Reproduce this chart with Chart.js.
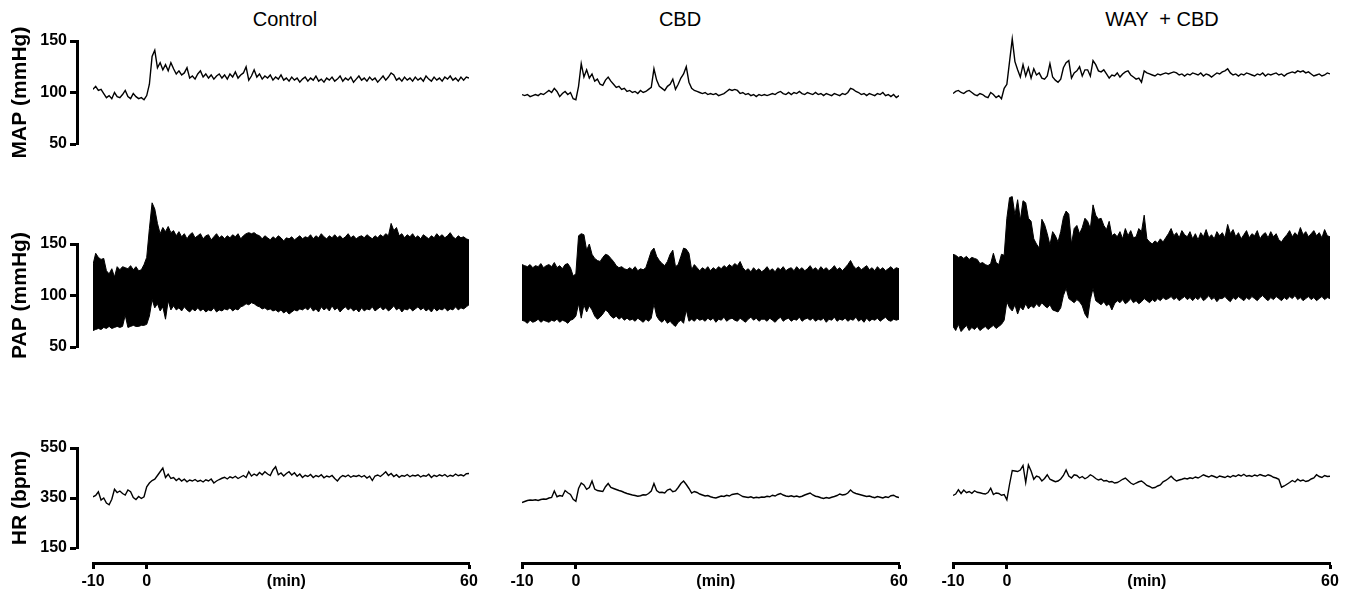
<!DOCTYPE html>
<html>
<head>
<meta charset="utf-8">
<script src="https://cdn.jsdelivr.net/npm/chart.js@4.4.1/dist/chart.umd.min.js"></script>
<style>
  body { margin: 0; background: #fff; }
  #fig { position: relative; width: 1349px; height: 593px; overflow: hidden;
         font-family: Arial, "Liberation Sans", sans-serif; }
  #fig canvas { position: absolute; }
  .group-title { position: absolute; top: 9px; font-size: 20px; line-height: 20px;
                 white-space: pre; transform: translateX(-50%); color: #000; }
</style>
</head>
<body>
<div id="fig"></div>
<script>
// ---------- Data (one sample every 0.5 min from -10 to 60) ----------
const groupTitles = ['Control', 'CBD', 'WAY  + CBD'];
const sampleStep = 0.5;
const minutes = Array.from({ length: 141 }, (_, i) => -10 + i * sampleStep);

const xTicks = [-10, 0, 60];
const xUnitLabel = '(min)';
const mapTicks = [50, 100, 150];
const papTicks = [50, 100, 150];
const hrTicks = [150, 350, 550];

// MAP (mmHg)
const mapControl = [
  103, 106, 102, 103, 99, 95, 97, 94, 100, 96,
  95, 98, 102, 96, 94, 99, 96, 94, 95, 93,
  97, 108, 135, 141, 124, 129, 122, 127, 121, 129,
  123, 118, 121, 117, 119, 124, 114, 116, 113, 118,
  121, 115, 118, 114, 117, 113, 116, 118, 114, 117,
  113, 118, 115, 120, 114, 117, 119, 125, 112, 116,
  122, 115, 118, 113, 116, 114, 117, 112, 115, 113,
  117, 112, 114, 111, 115, 112, 114, 110, 113, 115,
  111, 114, 112, 116, 111, 113, 110, 114, 112, 115,
  111, 113, 116, 111, 114, 112, 115, 110, 113, 116,
  112, 114, 111, 115, 112, 114, 110, 113, 116, 112,
  115, 119, 117, 112, 114, 111, 115, 112, 114, 111,
  115, 112, 114, 111, 116, 113, 111, 115, 112, 114,
  111, 115, 113, 116, 112, 114, 111, 115, 112, 115,
  114
];
const mapCbd = [
  98, 97, 98, 96, 97, 98, 97, 99, 98, 100,
  102, 100, 104, 101, 96, 99, 101, 98, 100, 94,
  93, 106, 128, 115, 122, 114, 118, 111, 113, 108,
  107, 112, 115, 111, 108, 105, 106, 103, 104, 101,
  102, 100, 101, 99, 102, 100, 101, 103, 105, 123,
  112, 106, 104, 102, 106, 108, 113, 103, 108, 114,
  118, 125, 110, 104, 102, 101, 100, 99, 100, 98,
  99, 98, 99, 97, 98, 99, 101, 103, 102, 103,
  102, 99, 100, 98, 99, 97, 98, 96, 98, 97,
  98, 97, 98, 99, 98, 100, 101, 99, 98, 100,
  98, 100, 99, 101, 99, 98, 100, 99, 98, 100,
  98, 99, 97, 99, 98, 97, 99, 98, 97, 99,
  98, 100, 104, 103, 101, 100, 98, 99, 97, 99,
  98, 97, 99, 98, 100, 97, 98, 96, 98, 95,
  97
];
const mapWayCbd = [
  99, 101, 102, 100, 99, 101, 102, 100, 98, 97,
  99, 98, 96, 95, 100, 98, 95, 97, 94, 104,
  108, 130, 152, 130, 122, 115, 127, 116, 124, 114,
  123, 117, 119, 114, 113, 116, 128, 115, 112, 110,
  113, 124, 129, 131, 114, 119, 121, 125, 116, 122,
  122, 116, 131, 127, 121, 120, 122, 118, 114, 117,
  116, 119, 115, 118, 120, 121, 117, 115, 113, 114,
  110, 121, 119, 118, 117, 116, 118, 117, 118, 119,
  118, 119, 120, 119, 117, 118, 116, 118, 117, 119,
  118, 117, 119, 116, 118, 117, 115, 117, 119, 118,
  120, 121, 123, 119, 117, 118, 116, 118, 117, 119,
  118, 117, 116, 118, 117, 119, 116, 118, 117, 118,
  119, 117, 118, 116, 118, 119, 120, 119, 121, 120,
  121, 119, 120, 118, 116, 117, 118, 116, 117, 119,
  118
];

// PAP (mmHg): upper and lower edge of the pulsatile band
const papControlHigh = [
  130, 141, 137, 135, 136, 124, 121, 126, 118, 128,
  125, 128, 127, 126, 129, 125, 128, 124, 125, 130,
  137, 165, 190, 184, 170, 160, 166, 162, 167, 161,
  163, 158, 162, 157, 160, 155, 159, 161, 156, 158,
  160, 155, 158, 159, 154, 157, 160, 156, 158, 155,
  158, 156, 159, 157, 160, 155, 158, 160, 161, 160,
  161, 159, 158, 155, 158, 156, 154, 157, 155, 158,
  156, 153, 156, 155, 157, 154, 156, 158, 155, 157,
  156, 159, 155, 158, 156, 160, 157, 155, 158, 156,
  159, 156, 158, 155, 157, 160, 156, 158, 155, 157,
  158, 156, 159, 157, 155, 158, 156, 159, 157, 160,
  158, 170, 163, 166, 158, 160, 156, 159, 157, 160,
  156, 158, 155, 159, 157, 155, 158, 156, 160, 157,
  159, 156, 158, 161, 157, 155, 158, 156, 157, 155,
  154
];
const papControlLow = [
  66, 67, 68, 67, 69, 68, 70, 68, 69, 70,
  69, 70, 81, 69, 70, 71, 70, 70, 71, 71,
  72, 80, 96, 88, 92, 85, 89, 77, 95, 86,
  90, 86, 88, 85, 89, 86, 84, 87, 85, 88,
  85, 87, 84, 86, 85, 88, 84, 86, 85, 87,
  86, 88, 85, 87, 86, 89, 90, 92, 91, 93,
  92, 90, 89, 87, 88, 86, 87, 85, 86, 84,
  86, 83, 85, 82, 84, 86, 85, 87, 86, 88,
  86, 89, 85, 87, 84, 89, 86, 88, 85, 90,
  86, 88, 84, 87, 89, 86, 88, 85, 87, 84,
  88, 85, 87, 86, 89, 85, 87, 89, 86, 88,
  85, 87, 90, 86, 88, 84, 87, 86, 88, 85,
  87, 89, 86, 88, 85, 87, 84, 88, 85, 87,
  86, 88, 85, 87, 86, 89, 86, 88, 87, 89,
  91
];
const papCbdHigh = [
  130, 129, 128, 130, 127, 129, 128, 131, 127, 129,
  130, 128, 132, 127, 129, 126, 130, 131, 127, 119,
  121, 158, 160, 159, 144, 150, 140, 136, 134, 133,
  137, 140, 139, 136, 133, 129, 127, 128, 126, 125,
  127, 125, 128, 124, 126, 125, 127, 135, 143, 146,
  138, 134, 131, 129, 133, 140, 144, 128, 130, 138,
  146, 145, 141, 125, 130, 127, 124, 127, 125, 128,
  124, 127, 125, 128, 126, 129, 127, 130, 128, 131,
  129, 133, 127, 124, 126, 123, 127, 124, 126, 123,
  125, 128, 124, 126, 123, 127, 125, 128, 124, 126,
  127, 124, 128, 125, 127, 124, 126, 129, 125, 127,
  124, 128, 125, 127, 124, 126, 129, 125, 127, 124,
  127, 130, 134, 129, 126, 128, 125, 127, 129, 125,
  127, 124, 128, 125, 127, 124, 126, 128, 125, 127,
  126
];
const papCbdLow = [
  76, 75, 73, 76, 74, 75, 77, 74, 76, 75,
  74, 76, 75, 77, 74, 76, 75, 73, 76, 77,
  80, 92, 78, 91, 84, 90, 86, 80, 77, 79,
  82, 86, 84, 80, 78, 80, 77, 79, 76, 78,
  76, 77, 75, 78, 76, 74, 77, 75, 78, 92,
  80, 76, 74, 77, 73, 75, 72, 70, 74, 76,
  73, 86, 75, 77, 75, 78, 76, 77, 75, 78,
  76, 78, 74, 77, 76, 79, 75, 77, 78, 76,
  75, 78, 76, 74, 77, 79, 76, 78, 75, 77,
  77, 75, 78, 76, 74, 77, 79, 75, 77, 78,
  75, 77, 76, 79, 75, 77, 78, 76, 78, 75,
  77, 76, 78, 74, 77, 76, 79, 75, 77, 76,
  78, 75, 77, 76, 79, 75, 77, 74, 78, 75,
  77, 76, 78, 75, 77, 79, 76, 75, 77, 76,
  77
];
const papWayCbdHigh = [
  140, 139, 137, 138, 136, 138, 135, 137, 136, 135,
  131, 132, 130, 129, 131, 141, 132, 130, 140, 139,
  175, 195, 196, 178, 193, 173, 192, 190, 175, 172,
  155, 150, 146, 174, 169, 160, 149, 162, 158, 152,
  162, 176, 182, 179, 150, 165, 168, 160, 166, 175,
  172, 165, 188, 178, 174, 175, 168, 164, 172, 158,
  160, 157, 162, 155, 165, 158, 163, 156, 157, 165,
  162, 178, 155, 152, 150, 153, 151, 155, 152, 156,
  160, 165, 158, 161, 156, 163, 159, 157, 162, 155,
  160, 154, 161, 157, 164, 156, 159, 155, 162, 158,
  161, 156, 169, 160, 164, 157, 161, 155, 159, 163,
  156, 160, 158, 163, 155, 159, 161, 156, 162, 157,
  160, 154, 152, 156, 159, 163, 157, 161, 158, 166,
  159, 162, 157, 160, 163, 158, 161, 156, 164, 158,
  157
];
const papWayCbdLow = [
  70, 66, 72, 65, 68, 71, 66, 69, 67, 70,
  66, 68, 70, 67, 69, 71, 68, 70, 72, 76,
  94, 88, 85, 91, 82, 89, 86, 92, 87, 90,
  88, 92, 89, 93, 90, 88, 91, 86, 85, 84,
  88, 100, 107, 97, 95, 93, 96, 94, 90, 82,
  78, 96, 107, 95, 93, 91, 94, 90, 92, 86,
  92, 95, 93, 96, 92, 94, 97, 93, 95, 92,
  94, 97, 95, 93, 96, 94, 97, 95, 98, 96,
  97, 99, 96, 98, 95, 97, 99, 96, 98, 95,
  98, 96, 99, 95, 97, 100, 96, 98, 94, 97,
  97, 99, 96, 94, 98, 96, 99, 97, 95, 98,
  96, 99, 97, 95, 98, 100, 97, 95, 98, 96,
  99, 97, 95, 98, 96, 99, 97, 100, 96, 98,
  95, 97, 99, 96, 98, 95, 97, 99, 96, 98,
  97
];

// HR (bpm)
const hrControl = [
  355, 360, 375, 342, 350, 330, 323, 345, 385, 372,
  378, 368, 362, 382, 375, 352, 344, 356, 348, 355,
  395, 410, 420, 425, 440, 455, 470, 432, 445, 428,
  432, 420, 428, 418, 425, 415, 422, 418, 424, 416,
  421, 414, 423, 418, 426, 410, 418, 424, 429, 433,
  426, 435, 430, 437, 428, 434, 440, 432, 455, 438,
  446, 440, 452, 443, 455, 446, 440, 462, 475, 443,
  450, 438, 448, 455, 442, 451, 437, 446, 432, 441,
  436, 444, 432, 440, 435, 443, 431, 438, 434, 440,
  428, 418, 432, 440, 435, 442, 433, 439, 436, 441,
  434, 440, 430, 437, 420, 438, 442, 436, 445, 455,
  440, 448, 436, 443, 433, 440, 437, 444, 435, 441,
  438, 443, 434, 440, 437, 445, 432, 441, 436, 443,
  438, 444, 435, 441, 437, 446, 439, 443, 438, 447,
  448
];
const hrCbd = [
  332, 336, 340, 342, 341, 343, 340, 344, 346, 345,
  350, 352, 378, 355, 360, 357, 380, 371, 364, 345,
  337, 388, 410, 402, 385, 392, 418, 386, 380, 378,
  376, 395, 408, 392, 388, 384, 380, 377, 372, 368,
  365, 362, 360, 357, 359, 363, 362, 368, 378, 408,
  380, 372, 373, 370, 382, 386, 375, 378, 392, 408,
  418, 404, 388, 370, 376, 372, 366, 362, 358, 360,
  355, 352, 350, 354, 358, 356, 361, 358, 364, 366,
  368, 362, 356, 354, 352, 355, 350, 353, 351, 354,
  353, 357, 355, 361, 358, 364, 368, 362, 358, 356,
  359, 355, 358, 354, 357, 362, 366, 370, 362, 357,
  355, 351, 348, 352, 349, 353, 356, 360, 366, 362,
  364, 370, 382, 372, 368, 365, 362, 359, 356, 358,
  354, 351, 356, 353, 350, 355, 352, 359, 361, 355,
  352
];
const hrWayCbd = [
  360, 366, 383, 368, 382, 371, 376, 369, 379, 373,
  371, 368, 366, 372, 389, 364, 370, 368, 361, 364,
  343, 405, 460, 458, 456, 462, 480, 412, 482, 458,
  425, 438, 434, 418, 428, 443, 425, 420, 415, 418,
  426, 440, 462, 438, 430, 443, 440, 430, 436, 427,
  433, 443, 437, 428, 422, 426, 418, 420, 414, 416,
  410, 412, 418, 425, 430, 420, 410, 404, 410, 415,
  418, 410, 400, 396, 390, 392, 398, 402, 415, 420,
  428, 437, 426, 418, 422, 425, 429, 426, 431, 428,
  434, 430, 436, 443, 438, 434, 440, 436, 431, 438,
  435, 432, 438, 433, 440, 436, 443, 438, 445, 437,
  440, 436, 442, 438, 444, 440, 437, 443, 439, 433,
  430, 425, 393, 398, 405, 412, 420, 414, 425, 418,
  422, 416, 419, 426, 430, 443, 436, 432, 440, 436,
  437
];

// ---------- Layout ----------
const MIN_LABEL_AT = 26;            // where "(min)" sits on the time axis
const cols = [[93, 469], [522, 899], [953, 1330]];   // pixel x of -10 and 60
const titleCenters = [285, 680, 1162];
const rows = [
  { label: 'MAP (mmHg)', ticks: mapTicks, anchor: [[150, 41], [50, 144]], top: 26, bottom: 168,
    traces: [[mapControl], [mapCbd], [mapWayCbd]] },
  { label: 'PAP (mmHg)', ticks: papTicks, anchor: [[150, 244], [50, 347]], top: 185, bottom: 365,
    traces: [[papControlHigh, papControlLow], [papCbdHigh, papCbdLow], [papWayCbdHigh, papWayCbdLow]] },
  { label: 'HR (bpm)', ticks: hrTicks, anchor: [[550, 448], [150, 548]], top: 425, bottom: 563,
    traces: [[hrControl], [hrCbd], [hrWayCbd]] }
];

Chart.defaults.font.family = 'Arial, "Liberation Sans", sans-serif';
Chart.defaults.color = '#000';

const fig = document.getElementById('fig');

groupTitles.forEach((t, i) => {
  const d = document.createElement('div');
  d.className = 'group-title';
  d.style.left = titleCenters[i] + 'px';
  d.textContent = t;
  fig.appendChild(d);
});

function addCanvas(left, top, width, height) {
  const c = document.createElement('canvas');
  c.width = width;
  c.height = height;
  c.style.left = left + 'px';
  c.style.top = top + 'px';
  c.style.width = width + 'px';
  c.style.height = height + 'px';
  fig.appendChild(c);
  return c.getContext('2d');
}

// value range that puts the row's anchor values on their pixel rows
function yRange(anchor, top, bottom) {
  const [[v1, p1], [v2, p2]] = anchor;
  const perPx = (v1 - v2) / (p2 - p1);
  return { min: v2 - (bottom - p2) * perPx, max: v1 + (p1 - top) * perPx };
}

function lineSet(values, isLowerEdge, width) {
  return {
    data: values.map((v, i) => ({ x: minutes[i], y: v })),
    borderColor: '#000',
    backgroundColor: '#000',
    borderWidth: width,
    fill: isLowerEdge ? '-1' : false,
    pointRadius: 0,
    tension: 0
  };
}

const baseOptions = {
  animation: false,
  responsive: false,
  events: [],
  plugins: { legend: { display: false }, tooltip: { enabled: false } }
};

// ---------- Trace panels ----------
const sidePad = 24;
rows.forEach((row, r) => {
  const isBottom = r === rows.length - 1;
  const height = (isBottom ? 593 : row.bottom) - row.top;
  const yr = yRange(row.anchor, row.top, row.bottom);

  cols.forEach(([x0, x1], c) => {
    const ctx = addCanvas(x0 - sidePad, row.top, x1 - x0 + 2 * sidePad, height);
    const sets = row.traces[c].map((vals, k) => lineSet(vals, k === 1, row.traces[c].length > 1 ? 1 : 1.4));

    new Chart(ctx, {
      type: 'line',
      data: { datasets: sets },
      options: {
        ...baseOptions,
        layout: { padding: { left: sidePad, right: sidePad, top: 0, bottom: 0 } },
        scales: {
          y: { type: 'linear', display: false, min: yr.min, max: yr.max },
          x: {
            type: 'linear', display: isBottom, min: -10, max: 60,
            afterBuildTicks: s => { s.ticks = [...xTicks, MIN_LABEL_AT].sort((a, b) => a - b).map(v => ({ value: v })); },
            afterFit: s => { s.height = isBottom ? 30 : 0; },
            border: { display: true, width: 3, color: '#000' },
            grid: {
              drawOnChartArea: false, drawTicks: true, tickLength: 6, tickWidth: 3,
              tickColor: ctx => (ctx.tick && ctx.tick.value === MIN_LABEL_AT) ? 'rgba(0,0,0,0)' : '#000'
            },
            ticks: {
              autoSkip: false, maxRotation: 0, padding: 3,
              font: { size: 16, weight: 'bold' },
              callback: v => v === MIN_LABEL_AT ? xUnitLabel : v
            }
          }
        }
      }
    });
  });
});

// ---------- Left value axes ----------
const axisPad = 22;
rows.forEach(row => {
  const [[vTop, pTop], [vBot, pBot]] = row.anchor;
  const ctx = addCanvas(0, pTop - axisPad, 82, pBot - pTop + 2 * axisPad);

  new Chart(ctx, {
    type: 'line',
    data: { datasets: [] },
    options: {
      ...baseOptions,
      layout: { padding: { top: axisPad, bottom: axisPad, left: 0, right: 0 } },
      scales: {
        x: { type: 'linear', display: false, min: 0, max: 1 },
        y: {
          type: 'linear', position: 'left', min: vBot, max: vTop,
          afterBuildTicks: s => { s.ticks = row.ticks.map(v => ({ value: v })); },
          afterFit: s => { s.width = 77; },
          border: { display: true, width: 3, color: '#000' },
          grid: { drawOnChartArea: false, drawTicks: true, tickLength: 7, tickWidth: 3, tickColor: '#000' },
          ticks: { padding: 3, font: { size: 16, weight: 'bold' } },
          title: {
            display: true, text: row.label,
            font: { size: 21, weight: 'bold' },
            padding: { top: 8, bottom: 0 }
          }
        }
      }
    }
  });
});
</script>
</body>
</html>
